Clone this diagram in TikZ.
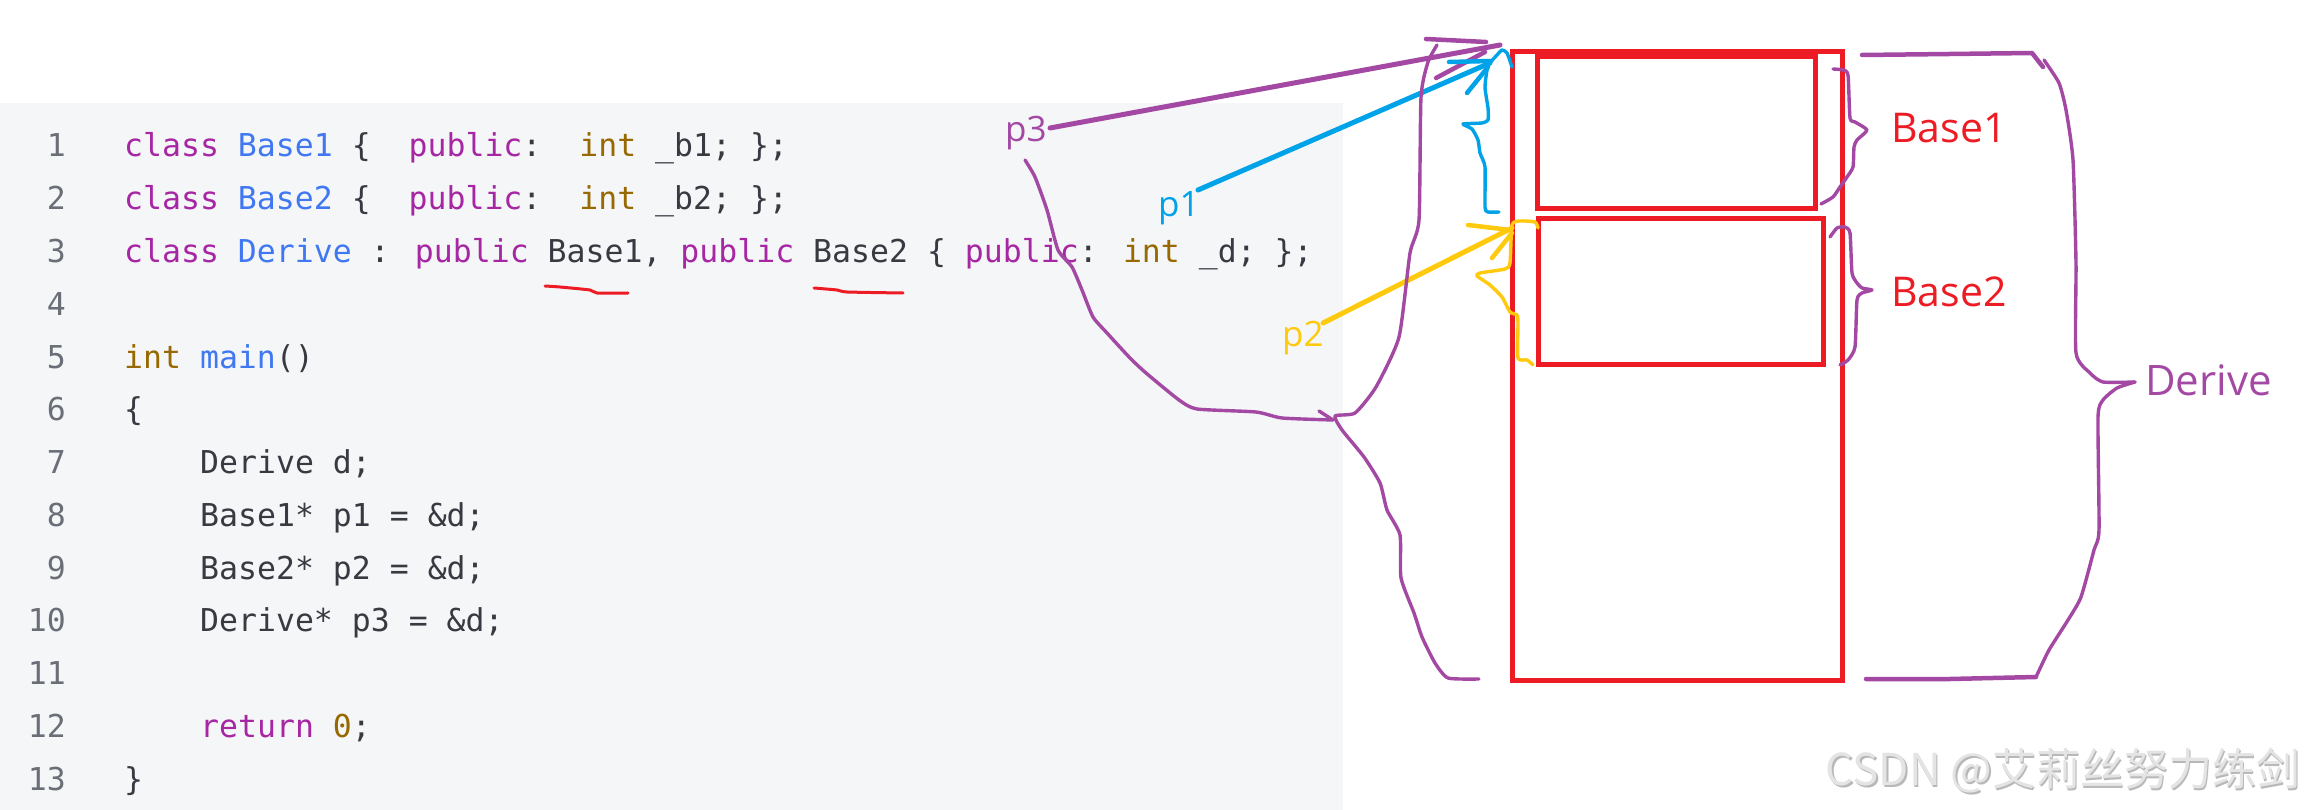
\documentclass[tikz,border=0pt]{standalone}
\usepackage{fontspec}
\setmainfont{Open Sans}
\newfontfamily\codefont{DejaVu Sans Mono}
\newfontfamily\cjkfont{Noto Sans CJK SC}
\definecolor{cKw}{HTML}{A626A4}
\definecolor{cTi}{HTML}{4078F2}
\definecolor{cTy}{HTML}{986801}
\definecolor{cTx}{HTML}{383A42}
\definecolor{cLn}{HTML}{6A6E76}
\definecolor{codebg}{HTML}{F5F6F8}
\definecolor{pRed}{HTML}{ED1C24}
\definecolor{pPur}{HTML}{A349A4}
\definecolor{pBlu}{HTML}{00A2E8}
\definecolor{pYel}{HTML}{FFC90E}
\definecolor{wmA}{HTML}{E4E4E4}
\definecolor{wmB}{HTML}{B8B8B8}
\newcommand\ckw[1]{\textcolor{cKw}{#1}}
\newcommand\cti[1]{\textcolor{cTi}{#1}}
\newcommand\cty[1]{\textcolor{cTy}{#1}}
\begin{document}
\begin{tikzpicture}[x=1pt,y=-1pt,line cap=round,line join=round,
  code/.style={anchor=base west,inner sep=0pt,font=\codefont\fontsize{31.5}{32}\selectfont,text=cTx},
  lno/.style={anchor=base east,inner sep=0pt,font=\codefont\fontsize{31.5}{32}\selectfont,text=cLn},
  plbl/.style={anchor=base west,inner sep=0pt,font=\fontsize{35}{36}\selectfont},
  blbl/.style={anchor=base west,inner sep=0pt,font=\fontsize{41}{42}\selectfont},
  box/.style={draw=pRed,line width=5pt,line cap=butt,line join=miter},
  shaft/.style={line width=5pt},
  hand/.style={line width=3.4pt},
  smoothy/.style={smooth,tension=0.35}]
\useasboundingbox (0,0) rectangle (2308,810);
\fill[white] (0,0) rectangle (2308,810);
\fill[codebg] (0,103) rectangle (1343,810);

% line numbers
\foreach \n in {1,...,13}{
  \node[lno] (n\n) at (66,{157+(\n-1)*52.75}) {\n};
}
% code lines
\node[code] (l1) at (124,157) {\ckw{class} \cti{Base1} \{\ \ \ckw{public}:\ \ \cty{int} \_b1; \};};
\node[code] (l2) at (124,209.75) {\ckw{class} \cti{Base2} \{\ \ \ckw{public}:\ \ \cty{int} \_b2; \};};
\node[code] (l3) at (124,262.5) {\ckw{class} \cti{Derive} : \ckw{public} Base1, \ckw{public} Base2 \{ \ckw{public}: \cty{int} \_d; \};};
\node[code] (l5) at (124,368) {\cty{int} \cti{main}()};
\node[code] (l6) at (124,420.75) {\{};
\node[code] (l7) at (200,473.5) {Derive d;};
\node[code] (l8) at (200,526.25) {Base1* p1 = \&d;};
\node[code] (l9) at (200,579) {Base2* p2 = \&d;};
\node[code] (l10) at (200,631.75) {Derive* p3 = \&d;};
\node[code] (l12) at (200,737.25) {\ckw{return} \cty{0};};
\node[code] (l13) at (124,790) {\}};

% red underlines
\draw[pRed,line width=3pt] plot[smoothy] coordinates {(545,286) (560,287) (590,290) (597,293) (628,293)};
\draw[pRed,line width=3pt] plot[smoothy] coordinates {(814,288) (837,290) (847,292) (903,293)};

% object layout boxes
\draw[box] (1512,52) rectangle (1842,680);
\draw[box] (1537,57) rectangle (1815,209);
\draw[box] (1538,218.5) rectangle (1823,364.5);
\coordinate (derive) at (1512,52);
\coordinate (b1) at (1537,57);
\coordinate (b2) at (1538,219);

% labels
\node[plbl,text=pPur] (p3) at (1005,142) {p3};
\node[plbl,text=pBlu] (p1) at (1158,217) {p1};
\node[plbl,text=pYel] (p2) at (1282,347) {p2};
\node[blbl,text=pRed] (lb1) at (1891,143) {Base1};
\node[blbl,text=pRed] (lb2) at (1891,307) {Base2};
\node[blbl,text=pPur,font=\fontsize{42}{43}\selectfont] (ld) at (2145,395) {Derive};

% p3 arrow
\coordinate (p3s) at (1050,128);
\coordinate (p3t) at (1500,45);
\draw[pPur,shaft] (p3s) -- (p3t);
\draw[pPur,line width=4.5pt] (1426,39) -- (1486,42);
\draw[pPur,line width=4.5pt] (1436,78) -- (1485,52);

% p1 arrow
\coordinate (p1s) at (1198,190);
\coordinate (p1t) at (1490,63);
\draw[pBlu,shaft] (p1s) -- (p1t);
\draw[pBlu,line width=4.5pt] (1449,62) -- (1490,61);
\draw[pBlu,line width=4.5pt] (1467,93) -- (1488,67);
\draw[pBlu,hand] plot[smoothy] coordinates {(1512,67) (1507,53) (1502,50) (1497,55) (1488,66) (1485,87) (1488,108) (1488,120) (1482,123) (1463,124) (1472,129) (1478,140) (1480,153) (1485,167) (1485,207) (1488,212) (1499,212)};

% p2 arrow
\coordinate (p2s) at (1323,323);
\coordinate (p2t) at (1512,228);
\draw[pYel,shaft] (p2s) -- (p2t);
\draw[pYel,line width=4.5pt] (1468,225) -- (1510,230);
\draw[pYel,line width=4.5pt] (1492,258) -- (1512,233);
\draw[pYel,hand] plot[smoothy] coordinates {(1538,228) (1535,222) (1520,221) (1512,225) (1510,263) (1505,269) (1480,273) (1477,276) (1490,285) (1502,297) (1510,312) (1517,315) (1518,323) (1518,358) (1527,360) (1533,365)};

% p3 curve to Derive brace
\draw[pPur,hand] plot[smoothy] coordinates {(1025,160) (1035,177) (1047,210) (1058,250) (1072,267) (1082,290) (1093,317) (1107,333) (1130,358) (1146,373) (1179,400) (1197,409) (1256,412) (1282,418) (1333,420)};
\draw[pPur,hand] (1319,411) -- (1333,420);

% left Derive brace
\draw[pPur,hand] plot[smoothy] coordinates {(1437,45) (1428,62) (1421,97) (1419,220) (1410,253) (1399,337) (1376,387) (1355,413) (1335,416) (1342,430) (1364,457) (1380,483) (1387,510) (1400,535) (1401,578) (1414,613) (1422,637) (1435,663) (1448,678) (1479,679)};

% right braces
\draw[pPur,hand] plot[smoothy] coordinates {(1833,69) (1843,70) (1848,75) (1850,118) (1855,122) (1867,130) (1857,140) (1854,147) (1853,167) (1847,177) (1840,187) (1833,197) (1821,204)};
\draw[pPur,hand] plot[smoothy] coordinates {(1830,237) (1837,228) (1845,227) (1850,233) (1852,273) (1857,283) (1862,288) (1872,290) (1862,293) (1857,300) (1855,347) (1848,360) (1840,365)};
\draw[pPur,line width=4.5pt] (1862,55) -- (1950,54) -- (2032,53) -- (2043,67);
\draw[pPur,hand] plot[smoothy] coordinates {(2044,60) (2059,83) (2066,110) (2073,160) (2076,263) (2076,353) (2090,373) (2103,382) (2135,382)};
\draw[pPur,hand] plot[smoothy] coordinates {(2135,382) (2117,388) (2103,400) (2098,417) (2099,530) (2094,550) (2081,597) (2068,620) (2049,650) (2036,677)};
\draw[pPur,line width=4.5pt] (2036,677) -- (1950,679) -- (1866,679);

% watermark
\node[anchor=base east,inner sep=0pt,text=wmB,font=\cjkfont\fontsize{44}{45}\selectfont] (wms) at (2302,787) {CSDN @艾莉丝努力练剑};
\node[anchor=base east,inner sep=0pt,text=wmA,font=\cjkfont\fontsize{44}{45}\selectfont] (wm) at (2300.5,785.5) {CSDN @艾莉丝努力练剑};
\end{tikzpicture}
\end{document}
